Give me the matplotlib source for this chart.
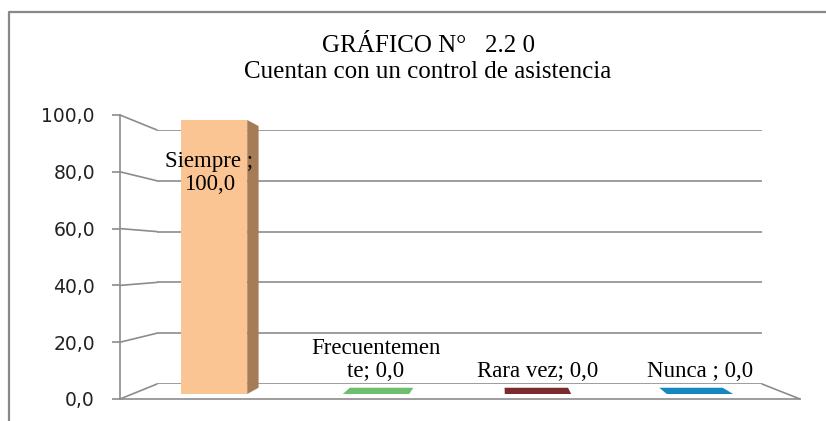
import matplotlib
matplotlib.use("Agg")
import matplotlib.pyplot as plt
from matplotlib.patches import ConnectionPatch, Polygon
from matplotlib.lines import Line2D
from matplotlib.transforms import IdentityTransform

# Data
categories = ["Siempre", "Frecuentemente", "Rara vez", "Nunca"]
values = [100.0, 0.0, 0.0, 0.0]
point_labels = ["Siempre ;\n100,0", "Frecuentemen\nte; 0,0", "Rara vez; 0,0", "Nunca ; 0,0"]
y_ticks = [0, 20, 40, 60, 80, 100]
y_tick_labels = ["0,0", "20,0", "40,0", "60,0", "80,0", "100,0"]
face_colors = ["#FBC593", "#6DBF6F", "#7B2B2B", "#1787BF"]
side_colors = ["#A67C57", "#4E8F50", "#5A1E1E", "#0F6590"]
title = "GRÁFICO N°   2.2 0\nCuentan con un control de asistencia"

W, H = 826, 421
grid_col = "#8C8C8C"
serif = ["Liberation Serif", "DejaVu Serif"]


def box(x0, y0, x1, y1):
    # pixel box (top-left origin) -> figure fraction rect
    return [x0 / W, 1 - y1 / H, (x1 - x0) / W, (y1 - y0) / H]


fig = plt.figure(figsize=(W / 100, H / 100), dpi=100)

# outer frame (left and top edges)
fig.add_artist(Line2D([9 / W, 9 / W, 1], [0, 1 - 12 / H, 1 - 12 / H],
                      transform=fig.transFigure, color="#888888", lw=1.6))

# back wall: gridlines
ax_back = fig.add_axes(box(157, 130, 762, 384))
ax_back.set_xlim(0, 1)
ax_back.set_ylim(0, 100)
ax_back.hlines(y_ticks, 0, 1, color=grid_col, lw=1.2)
ax_back.axis("off")

# front wall: value axis
ax_front = fig.add_axes(box(120, 115, 800, 399))
ax_front.set_xlim(0, 1)
ax_front.set_ylim(0, 100)
ax_front.patch.set_alpha(0)
for s in ["top", "right", "bottom"]:
    ax_front.spines[s].set_visible(False)
ax_front.spines["left"].set_color(grid_col)
ax_front.spines["left"].set_linewidth(1.2)
ax_front.set_xticks([])
ax_front.set_yticks(y_ticks)
ax_front.set_yticklabels(y_tick_labels)
ax_front.tick_params(axis="y", length=6, width=1.2, color=grid_col, pad=12,
                     labelsize=13.5, labelcolor="#222222")
ax_front.plot([0, 1], [0, 0], color=grid_col, lw=1.2, clip_on=False)

# side wall / floor connectors
for v in y_ticks:
    fig.add_artist(ConnectionPatch((0, v), (0, v), "data", "data",
                                   axesA=ax_front, axesB=ax_back,
                                   color=grid_col, lw=1.2))
fig.add_artist(ConnectionPatch((1, 0), (1, 0), "data", "data",
                               axesA=ax_front, axesB=ax_back,
                               color=grid_col, lw=1.2))

# bars
ax_bar = fig.add_axes(box(133, 120, 781, 394))
ax_bar.set_xlim(-0.5, 3.5)
ax_bar.set_ylim(0, 100)
ax_bar.axis("off")
width = 0.41
x = list(range(len(categories)))
ax_bar.bar(x, values, width=width, color=face_colors, zorder=3)

# simple perspective for the depth faces
V = (500, H - 255)
k = 0.045


def back(p):
    return (p[0] + k * (V[0] - p[0]), p[1] + k * (V[1] - p[1]))


for i, v in enumerate(values):
    t = ax_bar.transData
    fl = t.transform((i - width / 2, 0))
    fr = t.transform((i + width / 2, 0))
    tr = t.transform((i + width / 2, v))
    if v > 0:
        pts = [fr, back(fr), back(tr), tr]
        col = side_colors[i]
    else:
        pts = [fl, fr, back(fr), back(fl)]
        col = face_colors[i]
    ax_bar.add_patch(Polygon(pts, closed=True, transform=IdentityTransform(),
                             facecolor=col, edgecolor="none", zorder=3,
                             clip_on=False))

# point labels
ax_bar.text(-0.03, 80.5, point_labels[0], ha="center", va="center",
            family=serif, fontsize=16.5, linespacing=1.12, zorder=5)
for i in range(1, 4):
    ax_bar.text(i, 4.5, point_labels[i], ha="center", va="bottom",
                family=serif, fontsize=16.5, linespacing=1.12, zorder=5)

# title
fig.text(428 / W, 1 - 59 / H, title, ha="center", va="center",
         family=serif, fontsize=18, linespacing=1.2)

fig.savefig("out.png", dpi=100)
